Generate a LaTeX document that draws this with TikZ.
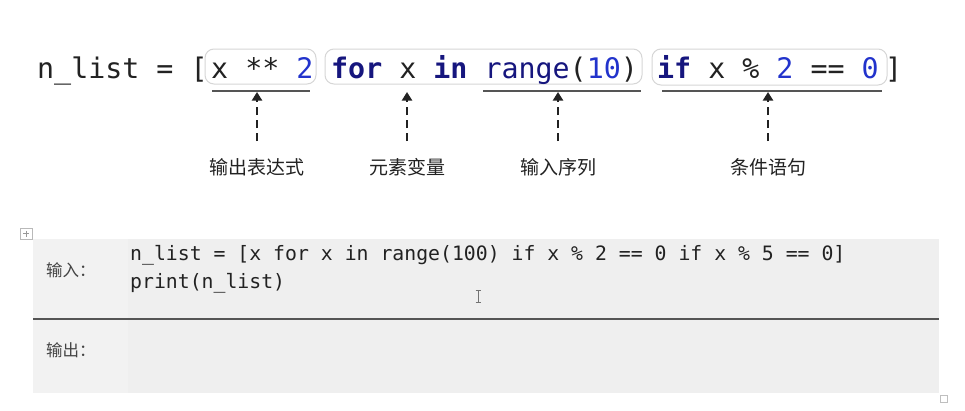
\documentclass[tikz,border=0pt]{standalone}
\usepackage{fontspec}
\setmonofont{DejaVu Sans Mono}
\newfontfamily\cjk{Noto Sans CJK SC}
\usetikzlibrary{arrows.meta}
\definecolor{kw}{HTML}{16167E}
\definecolor{num}{HTML}{2233CC}
\definecolor{txt}{HTML}{222222}
\definecolor{boxline}{HTML}{D6D6D6}
\definecolor{uline}{HTML}{555555}
\definecolor{panel}{HTML}{EFEFEF}
\definecolor{panelleft}{HTML}{F2F2F2}
\tikzset{
  bigcode/.style={inner sep=0pt, anchor=base west, text=txt, font=\fontsize{28.3}{34}\selectfont\ttfamily},
  smallcode/.style={inner sep=0pt, anchor=base west, text=txt, font=\fontsize{19.8}{24}\selectfont\ttfamily},
  cbox/.style={draw=boxline, line width=1pt, fill=white, rounded corners=9pt, inner sep=0pt},
  underl/.style={draw=uline, line width=2pt},
  darr/.style={draw=txt, line width=2pt, dash pattern=on 8.5pt off 4.5pt, -{Triangle[length=8.5pt,width=10pt]}},
  lab/.style={inner sep=0pt, text=txt, font=\fontsize{19}{22}\selectfont\cjk},
  rowlab/.style={inner sep=0pt, anchor=west, text=txt!85!white, font=\fontsize{16.5}{20}\selectfont\cjk}
}
\begin{document}
\begin{tikzpicture}[x=1pt,y=-1pt]
\useasboundingbox (0,0) rectangle (965,410);
\fill[white] (0,0) rectangle (965,410);

% rounded boxes
\node[cbox, minimum width=111pt, minimum height=35pt] (b1) at (260.5,66.5) {};
\node[cbox, minimum width=317pt, minimum height=35pt] (b2) at (483.5,66.5) {};
\node[cbox, minimum width=235pt, minimum height=36pt] (b3) at (769.5,67) {};

% top code
\node[bigcode] (t0) at (37,78) {n\_list = [};
\node[bigcode] (t1) at (211,78) {x ** \textcolor{num}{2}};
\node[bigcode] (t2) at (331,78) {\textbf{\color{kw}for} x \textbf{\color{kw}in} \textcolor{kw}{range}(\textcolor{num}{10})};
\node[bigcode] (t3) at (657,78) {\textbf{\color{kw}if} x \% \textcolor{num}{2} == \textcolor{num}{0}};
\node[bigcode] (t4) at (885,78) {]};

% underlines
\draw[underl] (212,91) -- (310,91);
\draw[underl] (483,91) -- (641,91);
\draw[underl] (662,91) -- (882,91);

% labels
\node[lab] (l1) at (257,167) {输出表达式};
\node[lab] (l2) at (407,167) {元素变量};
\node[lab] (l3) at (558,167) {输入序列};
\node[lab] (l4) at (768,167) {条件语句};

% arrows
\coordinate (s1) at (257,141); \coordinate (e1) at (257,92);
\coordinate (s2) at (407,141); \coordinate (e2) at (407,92);
\coordinate (s3) at (558,141); \coordinate (e3) at (558,92);
\coordinate (s4) at (768,141); \coordinate (e4) at (768,92);
\draw[darr] (s1) -- (e1);
\draw[darr] (s2) -- (e2);
\draw[darr] (s3) -- (e3);
\draw[darr] (s4) -- (e4);

% bottom panel
\draw[gray!55, line width=0.6pt, fill=white] (20,228) rectangle (32,239);
\draw[gray!80, line width=0.6pt] (26,230.5) -- (26,236.5) (23,233.5) -- (29,233.5);
\fill[panel] (33,239) rectangle (939,393);
\fill[panelleft] (33,239) rectangle (128,393);
\draw[uline, line width=1.5pt] (33,319) -- (939,319);

\node[rowlab] (in) at (46,270) {输入：};
\node[rowlab] (out) at (46,350) {输出：};

\node[smallcode] (c1) at (130,260) {n\_list = [x for x in range(100) if x \% 2 == 0 if x \% 5 == 0]};
\node[smallcode] (c2) at (130,288) {print(n\_list)};

% text cursor
\draw[gray!90!black, line width=0.8pt] (478,290) -- (478,302) (475.5,290) -- (480.5,290) (475.5,302) -- (480.5,302);

% resize handle
\draw[gray!50, line width=0.6pt, fill=white] (940,395) rectangle (947,402);
\end{tikzpicture}
\end{document}
